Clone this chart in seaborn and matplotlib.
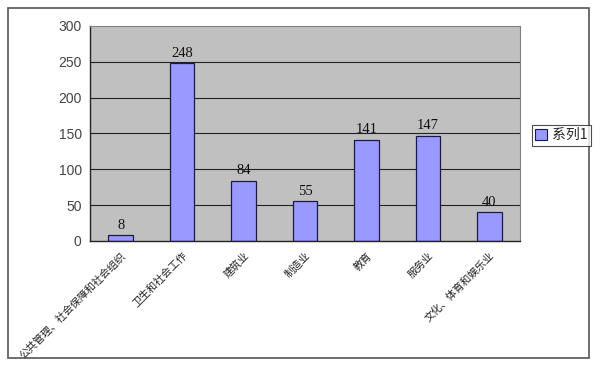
import matplotlib
matplotlib.use("Agg")
import matplotlib.pyplot as plt
import matplotlib.patches as mpatches
import seaborn as sns
import pandas as pd

# ==============================
# Data
# ==============================
categories = ["公共管理、社会保障和社会组织", "卫生和社会工作", "建筑业", "制造业",
              "教育", "服务业", "文化、体育和娱乐业"]
values = [8, 248, 84, 55, 141, 147, 40]
series_name = "系列1"
y_ticks = [0, 50, 100, 150, 200, 250, 300]

df = pd.DataFrame({"category": categories, "value": values})

# ==============================
# Styling
# ==============================
sns.set_style("white")
plt.rcParams['font.family'] = ['Noto Sans CJK SC', 'DejaVu Sans']

bar_color = "#9999FF"
edge_color = "#1a1a4a"
plot_bg = "#C0C0C0"

fig = plt.figure(figsize=(6, 3.7), dpi=100)
ax = fig.add_axes([0.15, 0.349, 0.717, 0.581])
ax.set_facecolor(plot_bg)

sns.barplot(data=df, x="category", y="value", color=bar_color,
            edgecolor=edge_color, linewidth=0.9, width=0.4, saturation=1, ax=ax)

# value labels
for i, v in enumerate(values):
    ax.text(i, v + 5, str(v), ha="center", va="bottom", fontsize=10.5,
            family=["Liberation Serif", "DejaVu Serif"], color="#111111")

ax.set_ylim(0, 300)
ax.set_xlim(-0.5, len(categories) - 0.5)
ax.set_yticks(y_ticks)
ax.set_yticklabels([str(t) for t in y_ticks], fontsize=10, color="#444444",
                   family=["Liberation Sans", "DejaVu Sans"])
for t in y_ticks[1:-1]:
    ax.axhline(t, color="#222222", linewidth=0.8, zorder=0.5)

# category ticks between bars
ax.set_xticks([i + 0.5 for i in range(len(categories) - 1)], minor=True)
ax.tick_params(axis="x", which="minor", direction="in", length=4, color="#222222")
ax.set_xticks(range(len(categories)))
ax.set_xticklabels(categories, rotation=45, ha="right", rotation_mode="anchor",
                   fontsize=7.5, color="#222222")
ax.tick_params(axis="x", which="major", length=0, pad=7)
ax.tick_params(axis="y", length=0, pad=6)
ax.set_xlabel("")
ax.set_ylabel("")

for side in ["top", "right"]:
    ax.spines[side].set_color("#808080")
    ax.spines[side].set_linewidth(0.8)
for side in ["left", "bottom"]:
    ax.spines[side].set_color("#222222")
    ax.spines[side].set_linewidth(1.0)
ax.set_axisbelow(False)

# legend
handle = mpatches.Patch(facecolor=bar_color, edgecolor=edge_color, linewidth=0.8,
                        label=series_name)
leg = fig.legend(handles=[handle], loc="center left",
                 bbox_to_anchor=(0.875, 0.635), frameon=True, fontsize=10,
                 handlelength=0.8, handleheight=0.8, handletextpad=0.4,
                 borderpad=0.25, fancybox=False)
leg.get_frame().set_edgecolor("#222222")
leg.get_frame().set_linewidth(0.8)

# outer chart border
fig.patches.append(mpatches.Rectangle((0.014, 0.032), 0.968, 0.946,
                                      transform=fig.transFigure, fill=False,
                                      edgecolor="#555555", linewidth=1.2))

fig.savefig("out.png", dpi=100, facecolor="white")
